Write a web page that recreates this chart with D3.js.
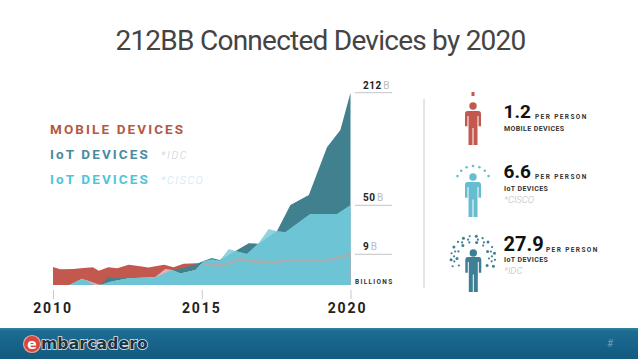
<!DOCTYPE html>
<html>
<head>
<meta charset="utf-8">
<script src="https://cdn.jsdelivr.net/npm/d3@7"></script>
<style>
  html, body { margin: 0; padding: 0; background: #fff; }
  svg { display: block; font-family: Roboto, sans-serif; }
</style>
</head>
<body>
<div id="chart"></div>
<script>
// values, in billions of devices
const mobileYears = [2010, 2010.24, 2010.68, 2011.02, 2011.34, 2011.54, 2011.86, 2012.16, 2012.54, 2012.87, 2013.21, 2013.49, 2013.74, 2014.05, 2014.39, 2014.84, 2015.05, 2015.29, 2015.72, 2016.3, 2016.63, 2017.41, 2017.74, 2019.16, 2020];
const mobileValues = [5.3, 4.6, 4.7, 5.0, 5.2, 4.2, 5.2, 4.9, 5.9, 5.6, 5.1, 5.6, 5.9, 5.2, 6.2, 6.4, 6.0, 5.9, 5.7, 7.6, 7.0, 6.7, 7.1, 7.1, 9];

const idcYears = [2010, 2010.55, 2010.97, 2011.4, 2011.58, 2011.86, 2012.2, 2012.54, 2013.03, 2013.43, 2014, 2014.38, 2014.84, 2015.06, 2015.34, 2015.6, 2016.19, 2016.58, 2016.91, 2017.53, 2017.98, 2018.6, 2019.21, 2019.66, 2020];
const idcValues = [0, 0, 1.8, 0, 0, 2.3, 2.0, 2.1, 2.1, 2.2, 4.4, 5.0, 6.2, 7.0, 7.9, 7.3, 12.6, 18.2, 17.9, 28.5, 50.4, 64.8, 133.4, 158.4, 212];

const ciscoYears = [2010, 2010.55, 2010.97, 2011.58, 2011.68, 2011.97, 2012.54, 2012.93, 2013.43, 2013.77, 2014, 2014.28, 2014.79, 2015.06, 2015.34, 2015.6, 2015.91, 2016.13, 2016.52, 2016.91, 2017.25, 2017.53, 2017.81, 2018.65, 2019.55, 2020];
const ciscoValues = [0, 0, 1.8, 0, 0.2, 1.0, 2.0, 2.1, 2.3, 4.6, 4.4, 3.4, 4.4, 6.9, 7.5, 7.1, 13.4, 11.8, 9.3, 18.2, 30.2, 28.2, 27.4, 42.7, 42.7, 50];

const tickYears = [2010, 2015, 2020];
const markValues = [212, 50, 9];
const legendLabels = ["MOBILE DEVICES", "IoT DEVICES", "IoT DEVICES"];
const legendNotes = ["", "*IDC", "*CISCO"];
const perPerson = ["1.2", "6.6", "27.9"];
const perPersonLabels = ["MOBILE DEVICES", "IoT DEVICES", "IoT DEVICES"];
const perPersonNotes = ["", "*CISCO", "*IDC"];

const width = 638, height = 359;
const red = "#c3594e", teal = "#40808f", cyan = "#6cc4d4", cyanLight = "#90d3de", pink = "#e2b0b6";

const svg = d3.select("#chart").append("svg").attr("width", width).attr("height", height);

// ---------------------------
// Title
// ---------------------------

svg.append("text")
  .attr("x", 320.5).attr("y", 50)
  .attr("text-anchor", "middle")
  .attr("font-size", 28)
  .attr("font-weight", 400)
  .attr("letter-spacing", -0.75)
  .attr("fill", "#444")
  .text("212BB Connected Devices by 2020");

// ---------------------------
// Scales
// ---------------------------

const x = d3.scaleLinear().domain([2010, 2020]).range([53, 350.5]);
// the picture's value axis is not linear, it goes through the three marks
const y = d3.scaleLinear().domain([0, 9, 50, 212]).range([285, 254.3, 205.3, 92.7]);

const area = d3.area()
  .x((d) => x(d[0]))
  .y0(y(0))
  .y1((d) => y(d[1]));

const mobile = d3.zip(mobileYears, mobileValues);
const idc = d3.zip(idcYears, idcValues);
const cisco = d3.zip(ciscoYears, ciscoValues);

// ---------------------------
// Areas
// ---------------------------

const defs = svg.append("defs");
defs.append("clipPath").attr("id", "clip-mobile").append("path").attr("d", area(mobile));
defs.append("clipPath").attr("id", "clip-idc").append("path").attr("d", area(idc));

svg.append("path").attr("d", area(mobile)).attr("fill", red);
svg.append("path").attr("d", area(idc)).attr("fill", teal);
svg.append("path").attr("d", area(cisco)).attr("fill", cyanLight);
svg.append("path").attr("d", area(cisco)).attr("fill", pink).attr("clip-path", "url(#clip-mobile)");
svg.append("path").attr("d", area(cisco)).attr("fill", cyan).attr("clip-path", "url(#clip-idc)");

// mobile stays visible as a grey line once it is under the IoT areas
svg.append("path")
  .attr("d", d3.line().x((d) => x(d[0])).y((d) => y(d[1]))(mobile.filter((d) => d[0] >= 2015.05)))
  .attr("fill", "none")
  .attr("stroke", "#a8aeb0")
  .attr("stroke-width", 2.5);

// ---------------------------
// Value marks
// ---------------------------

markValues.forEach((v) => {
  svg.append("line")
    .attr("x1", 355).attr("x2", 392)
    .attr("y1", y(v)).attr("y2", y(v))
    .attr("stroke", "#c4c4c4");
  const t = svg.append("text").attr("x", 363).attr("y", y(v) - 4).attr("font-size", 10);
  t.append("tspan").attr("font-weight", 700).attr("fill", "#222").attr("letter-spacing", 0.5).text(v);
  t.append("tspan").attr("fill", "#bbb").attr("dx", 1.5).text("B");
});

svg.append("text")
  .attr("x", 355).attr("y", 284)
  .attr("font-size", 6.5).attr("font-weight", 700)
  .attr("letter-spacing", 1.3).attr("fill", "#333")
  .text("BILLIONS");

// ---------------------------
// Axis
// ---------------------------

const axis = svg.append("g")
  .attr("transform", "translate(0,290)")
  .call(d3.axisBottom(x).tickValues(tickYears).tickFormat(d3.format("d")).tickSize(9).tickPadding(4));

axis.select(".domain").remove();
axis.selectAll("line").attr("stroke", "#c8c8c8");
axis.selectAll("text")
  .attr("font-family", "Roboto, sans-serif")
  .attr("font-size", 14)
  .attr("font-weight", 700)
  .attr("letter-spacing", 1.9)
  .attr("dx", (d) => (d == 2020 ? -3.5 : -0.5))
  .attr("fill", "#222");

// ---------------------------
// Legend
// ---------------------------

const legendColors = ["#b5593f", "#4a8ba0", "#4fc5da"];
legendLabels.forEach((d, i) => {
  const ly = 134 + i * 25;
  svg.append("text")
    .attr("x", 50).attr("y", ly)
    .attr("font-size", 13.5).attr("font-weight", 700)
    .attr("letter-spacing", 2.1)
    .attr("fill", legendColors[i])
    .text(d);
  if (legendNotes[i]) {
    svg.append("text")
      .attr("x", 161).attr("y", ly)
      .attr("font-size", 10.5).attr("font-style", "italic").attr("font-weight", 300)
      .attr("letter-spacing", 1.7)
      .attr("fill", i == 1 ? "#c3d0d6" : "#c2e6ee")
      .text(legendNotes[i]);
  }
});

// ---------------------------
// Per person column
// ---------------------------

svg.append("line")
  .attr("x1", 424).attr("x2", 424)
  .attr("y1", 99).attr("y2", 288)
  .attr("stroke", "#c8c8c8");

function person(cx, headY, top, bottom, color) {
  const g = svg.append("g").attr("fill", color);
  const h = bottom - top;
  g.append("circle").attr("cx", cx).attr("cy", headY).attr("r", 3.7);
  // torso and arms
  g.append("path").attr("d",
    `M${cx - 5.5},${top} H${cx + 5.5} Q${cx + 8},${top} ${cx + 8},${top + 3} V${top + h * 0.45}` +
    ` H${cx + 5.5} V${top + 5} H${cx + 4.5} V${bottom} H${cx + 0.5} V${top + h * 0.5} H${cx - 0.5} V${bottom}` +
    ` H${cx - 4.5} V${top + 5} H${cx - 5.5} V${top + h * 0.45} H${cx - 8} V${top + 3} Q${cx - 8},${top} ${cx - 5.5},${top} Z`);
  return g;
}

person(473, 106, 111, 145, "#c3594e");
svg.append("rect").attr("x", 471.5).attr("y", 92).attr("width", 3).attr("height", 4).attr("fill", "#c3594e");

person(473, 177, 182, 217, "#66bdd0");
d3.range(-66, 67, 22).forEach((a) => {
  const r = (a * Math.PI) / 180;
  svg.append("circle")
    .attr("cx", 473 + 17 * Math.sin(r))
    .attr("cy", 183 - 17 * Math.cos(r))
    .attr("r", 1.3)
    .attr("fill", "#66bdd0");
});

person(473.3, 253, 257, 292, "#3e7f95");
[[22, 14], [16, 10]].forEach(([radius, n], ring) => {
  d3.range(n).forEach((i) => {
    const r = (((i - (n - 1) / 2) / ((n - 1) / 2)) * (ring ? 118 : 112) * Math.PI) / 180;
    svg.append("circle")
      .attr("cx", 473 + radius * Math.sin(r))
      .attr("cy", 258 - radius * Math.cos(r))
      .attr("r", i % 2 ? 1.5 : 1.1)
      .attr("fill", "#3e7f95");
  });
});
// third, partial ring at the sides
[-100, -85, -70, 70, 85, 100, -35, -15, 15, 35].forEach((deg) => {
  const r = (deg * Math.PI) / 180;
  svg.append("circle")
    .attr("cx", 473 + 19 * Math.sin(r))
    .attr("cy", 258 - 19 * Math.cos(r))
    .attr("r", 1.1)
    .attr("fill", "#3e7f95");
});

const numberY = [118, 178, 251];
const numberSize = [19, 19, 20];
const perX = [535, 535, 546];
const labelY = [131, 191, 262];
const noteY = [null, 203, 274];

perPerson.forEach((d, i) => {
  svg.append("text")
    .attr("x", 503.5).attr("y", numberY[i])
    .attr("font-size", numberSize[i]).attr("font-weight", 700)
    .attr("fill", "#111")
    .text(d);
  svg.append("text")
    .attr("x", perX[i]).attr("y", numberY[i] + 1)
    .attr("font-size", 6.5).attr("font-weight", 700)
    .attr("letter-spacing", 1.4).attr("fill", "#333")
    .text("PER PERSON");
  svg.append("text")
    .attr("x", 504).attr("y", labelY[i])
    .attr("font-size", 7).attr("font-weight", 700)
    .attr("letter-spacing", 0.4).attr("fill", "#333")
    .text(perPersonLabels[i]);
  if (perPersonNotes[i]) {
    svg.append("text")
      .attr("x", 504).attr("y", noteY[i])
      .attr("font-size", 9.5).attr("font-style", "italic").attr("font-weight", 300)
      .attr("fill", "#bbb")
      .text(perPersonNotes[i]);
  }
});

// ---------------------------
// Footer
// ---------------------------

const grad = defs.append("linearGradient").attr("id", "footer").attr("x1", 0).attr("x2", 0).attr("y1", 0).attr("y2", 1);
grad.append("stop").attr("offset", 0).attr("stop-color", "#2f84a3");
grad.append("stop").attr("offset", 0.1).attr("stop-color", "#1c6c92");
grad.append("stop").attr("offset", 1).attr("stop-color", "#125a80");

svg.append("rect").attr("x", 0).attr("y", 328).attr("width", width).attr("height", 31).attr("fill", "url(#footer)");

svg.append("circle").attr("cx", 32).attr("cy", 344).attr("r", 8.5).attr("fill", "#d8463c").attr("stroke", "#e8a8a0").attr("stroke-width", 1.2);
svg.append("text")
  .attr("x", 32).attr("y", 348.5)
  .attr("text-anchor", "middle")
  .attr("font-family", "DejaVu Sans").attr("font-size", 14).attr("font-weight", 700)
  .attr("fill", "#fff")
  .text("e");
svg.append("text")
  .attr("x", 41).attr("y", 349)
  .attr("font-family", "DejaVu Sans").attr("font-size", 15.5).attr("font-weight", 700)
  .attr("letter-spacing", 0.2)
  .attr("fill", "#173647").attr("stroke", "#dfe8ec").attr("stroke-width", 1.6)
  .attr("paint-order", "stroke")
  .text("mbarcadero");

svg.append("text")
  .attr("x", 610).attr("y", 347)
  .attr("text-anchor", "middle")
  .attr("font-size", 10)
  .attr("fill", "#6e9db5")
  .text("#");
</script>
</body>
</html>
